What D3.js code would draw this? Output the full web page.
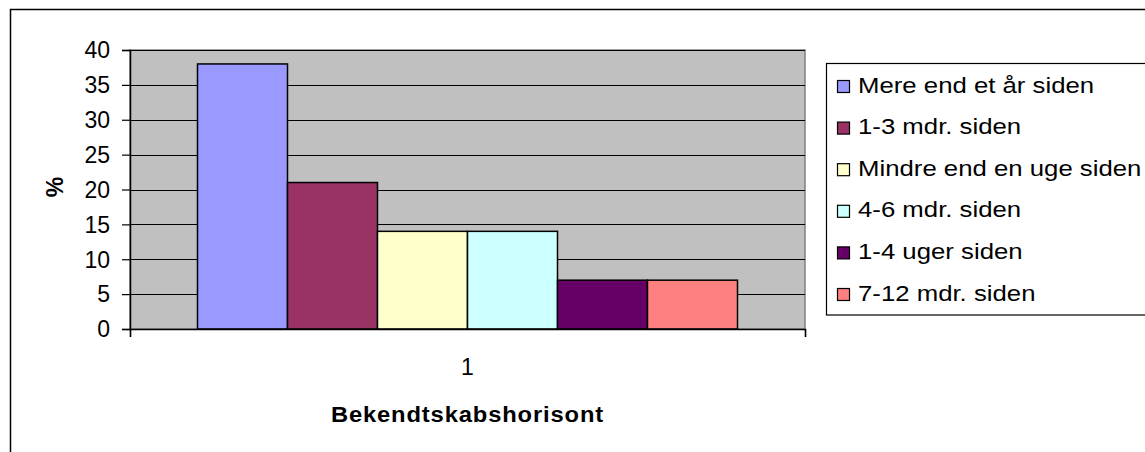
<!DOCTYPE html>
<html>
<head>
<meta charset="utf-8">
<script src="https://cdn.jsdelivr.net/npm/d3@7"></script>
<style>
  body { margin: 0; background: #fff; }
  text { font-family: "Liberation Sans", Arial, sans-serif; fill: #000; }
</style>
</head>
<body>
<svg id="chart" width="1145" height="452"></svg>
<script>
// Data
const categories = ["1"];
const seriesNames = ["Mere end et år siden", "1-3 mdr. siden", "Mindre end en uge siden",
    "4-6 mdr. siden", "1-4 uger siden", "7-12 mdr. siden"];
const seriesValues = [38, 21, 14, 14, 7, 7];
const yTicks = [0, 5, 10, 15, 20, 25, 30, 35, 40];

const colors = ["#9999FF", "#993366", "#FFFFCC", "#CCFFFF", "#660066", "#FF8080"];

// Layout
const plot = { left: 130, right: 805, top: 50, bottom: 329 };

const svg = d3.select("#chart");

// outer chart border (left and top only visible)
svg.append("path")
    .attr("d", "M10.5,452 L10.5,9.5 L1145,9.5")
    .attr("fill", "none")
    .attr("stroke", "#000")
    .attr("stroke-width", 1.5);

// text helper, sx = horizontal stretch of the original picture
function label(x, y, str, opts = {}) {
    const g = svg.append("g")
        .attr("transform", `translate(${x},${y}) scale(${opts.sx || 1},1)` + (opts.rotate ? ` rotate(${opts.rotate})` : ""));
    g.append("text")
        .attr("text-anchor", opts.anchor || "start")
        .style("font-size", (opts.size || 23) + "px")
        .style("font-weight", opts.bold ? "bold" : "normal")
        .style("letter-spacing", (opts.spacing || 0) + "px")
        .text(str);
    return g;
}

// Scales
const x0 = d3.scaleBand()
    .domain(categories)
    .range([plot.left, plot.right])
    .paddingInner(0)
    .paddingOuter(0.125);

const x1 = d3.scaleBand()
    .domain(d3.range(seriesValues.length))
    .range([0, x0.bandwidth()]);

const y = d3.scaleLinear()
    .domain([0, 40])
    .range([plot.bottom, plot.top]);

// Plot area background
svg.append("rect")
    .attr("x", plot.left)
    .attr("y", plot.top)
    .attr("width", plot.right - plot.left)
    .attr("height", plot.bottom - plot.top)
    .attr("fill", "#C0C0C0")
    .attr("stroke", "#808080")
    .attr("stroke-width", 1.5);

// gridlines
svg.append("g")
    .selectAll("line")
    .data(yTicks.filter(d => d > 0))
    .join("line")
    .attr("x1", plot.left)
    .attr("x2", plot.right)
    .attr("y1", d => Math.round(y(d)) + 0.5)
    .attr("y2", d => Math.round(y(d)) + 0.5)
    .attr("stroke", "#000")
    .attr("stroke-width", 1);

// bars
const group = svg.append("g")
    .attr("transform", `translate(${x0(categories[0])},0)`);

group.selectAll("rect")
    .data(seriesValues)
    .join("rect")
    .attr("x", (d, i) => x1(i))
    .attr("y", d => y(d))
    .attr("width", x1.bandwidth())
    .attr("height", d => y(0) - y(d))
    .attr("fill", (d, i) => colors[i])
    .attr("stroke", "#000")
    .attr("stroke-width", 1.5);

// y axis
const yAxis = svg.append("g")
    .attr("transform", `translate(${plot.left},0)`)
    .call(d3.axisLeft(y).tickValues(yTicks).tickSize(8).tickFormat(""));
yAxis.select(".domain").attr("stroke", "#000").attr("stroke-width", 1.5);
yAxis.selectAll(".tick line").attr("stroke", "#000").attr("stroke-width", 1.2);

yTicks.forEach(t => label(plot.left - 20, y(t) + 8.3, String(t), { anchor: "end", size: 23 }));

// x axis
const xAxis = svg.append("g")
    .attr("transform", `translate(0,${plot.bottom})`)
    .call(d3.axisBottom(d3.scaleLinear().domain([0, 1]).range([plot.left, plot.right]))
        .tickValues([0, 1]).tickSize(8).tickFormat(""));
xAxis.select(".domain").attr("stroke", "#000").attr("stroke-width", 1.5);
xAxis.selectAll(".tick line").attr("stroke", "#000").attr("stroke-width", 1.2);

label(x0(categories[0]) + x0.bandwidth() / 2, 375, categories[0], { anchor: "middle", size: 23 });

// axis titles
label(467.5, 422, "Bekendtskabshorisont", { anchor: "middle", bold: true, size: 22, spacing: 0.8, sx: 1.08 });
label(63, 187, "%", { anchor: "middle", bold: true, size: 23, rotate: -90 });

// legend
const legend = { left: 826, top: 63.5, bottom: 315, rowH: 41.6, firstRow: 86.5 };
svg.append("rect")
    .attr("x", legend.left + 0.5)
    .attr("y", legend.top)
    .attr("width", 1145 - legend.left + 10)
    .attr("height", legend.bottom - legend.top)
    .attr("fill", "#fff")
    .attr("stroke", "#000")
    .attr("stroke-width", 1.2);

seriesNames.forEach((name, i) => {
    const cy = legend.firstRow + i * legend.rowH;
    svg.append("rect")
        .attr("x", 837.5)
        .attr("y", cy - 6)
        .attr("width", 12)
        .attr("height", 12)
        .attr("fill", colors[i])
        .attr("stroke", "#000")
        .attr("stroke-width", 1.2);
    label(858, cy + 6, name, { size: 23, sx: 1.12 });
});
</script>
</body>
</html>
